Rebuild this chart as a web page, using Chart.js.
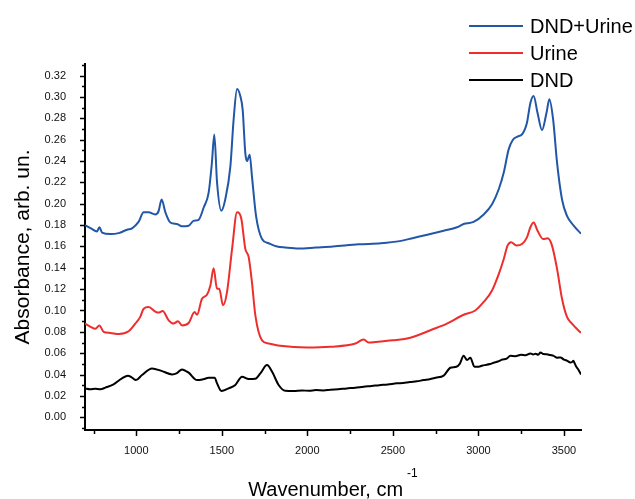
<!DOCTYPE html>
<html>
<head>
<meta charset="utf-8">
<title>FTIR absorbance spectra</title>
<script src="https://cdn.jsdelivr.net/npm/chart.js@4"></script>
<style>
  html, body { margin: 0; padding: 0; background: #fff; }
  #wrap { width: 635px; height: 499px; }
</style>
</head>
<body>
<div id="wrap"><canvas id="c" width="635" height="499"></canvas></div>
<script>
// Spectrum of DND + urine mixture
const mixWavenumber = [700, 735, 770, 784, 800, 848, 897, 946, 975, 1013, 1043, 1072, 1111, 1130, 1148, 1170, 1199, 1238, 1267, 1306, 1335, 1364, 1394, 1423, 1442, 1456, 1472, 1497, 1520, 1550, 1569, 1589, 1608, 1622, 1637, 1647, 1663, 1676, 1700, 1735, 1774, 1823, 1871, 1950, 2050, 2150, 2300, 2430, 2540, 2620, 2719, 2797, 2875, 2906, 2914, 2972, 3031, 3080, 3119, 3148, 3177, 3202, 3229, 3255, 3284, 3304, 3323, 3346, 3372, 3398, 3415, 3437, 3460, 3489, 3518, 3557, 3600];
const mixAbsorbance = [0.180, 0.177, 0.174, 0.178, 0.173, 0.1716, 0.1725, 0.1757, 0.177, 0.183, 0.192, 0.192, 0.190, 0.193, 0.204, 0.192, 0.1825, 0.181, 0.179, 0.1795, 0.184, 0.185, 0.1965, 0.2105, 0.2385, 0.265, 0.220, 0.1935, 0.204, 0.235, 0.279, 0.3075, 0.301, 0.288, 0.248, 0.240, 0.246, 0.226, 0.1887, 0.167, 0.163, 0.160, 0.159, 0.158, 0.159, 0.160, 0.162, 0.163, 0.165, 0.168, 0.1716, 0.1747, 0.178, 0.1805, 0.181, 0.183, 0.190, 0.1996, 0.2136, 0.229, 0.251, 0.260, 0.263, 0.265, 0.276, 0.2945, 0.301, 0.285, 0.269, 0.285, 0.298, 0.279, 0.2385, 0.204, 0.1887, 0.1795, 0.172];

// Spectrum of urine
const urineWavenumber = [700, 760, 784, 809, 848, 897, 955, 994, 1023, 1043, 1072, 1111, 1130, 1154, 1189, 1218, 1244, 1267, 1306, 1341, 1355, 1384, 1413, 1433, 1452, 1472, 1485, 1507, 1530, 1560, 1589, 1614, 1637, 1657, 1676, 1696, 1735, 1774, 1842, 1998, 2135, 2281, 2329, 2358, 2400, 2500, 2583, 2650, 2719, 2816, 2914, 2982, 3031, 3080, 3119, 3148, 3171, 3191, 3222, 3255, 3284, 3304, 3323, 3346, 3378, 3405, 3430, 3460, 3489, 3518, 3547, 3600];
const urineAbsorbance = [0.0877, 0.083, 0.086, 0.080, 0.079, 0.078, 0.0805, 0.0877, 0.094, 0.1017, 0.1032, 0.099, 0.098, 0.0995, 0.0908, 0.0877, 0.090, 0.086, 0.0883, 0.0985, 0.096, 0.111, 0.1147, 0.1234, 0.1396, 0.1203, 0.1203, 0.1048, 0.117, 0.1577, 0.192, 0.186, 0.158, 0.150, 0.1266, 0.0955, 0.072, 0.069, 0.0669, 0.0653, 0.066, 0.069, 0.0728, 0.070, 0.0705, 0.072, 0.0737, 0.077, 0.0815, 0.0877, 0.096, 0.100, 0.108, 0.1188, 0.134, 0.148, 0.161, 0.164, 0.161, 0.1623, 0.1685, 0.178, 0.1825, 0.1747, 0.167, 0.1676, 0.161, 0.139, 0.111, 0.094, 0.0877, 0.079];

// Spectrum of detonation nanodiamonds (noisier trace)
const dndWavenumber = [700, 730, 760, 790, 819, 867, 916, 951, 975, 998, 1033, 1092, 1150, 1209, 1238, 1267, 1306, 1355, 1394, 1423, 1458, 1472, 1497, 1540, 1579, 1618, 1657, 1696, 1725, 1764, 1794, 1832, 1871, 1920, 1969, 2010, 2050, 2095, 2135, 2180, 2230, 2280, 2329, 2375, 2420, 2470, 2524, 2560, 2600, 2640, 2680, 2715, 2750, 2797, 2836, 2871, 2891, 2914, 2934, 2953, 2977, 3002, 3025, 3045, 3068, 3089, 3115, 3140, 3165, 3187, 3215, 3250, 3275, 3304, 3320, 3335, 3350, 3363, 3380, 3400, 3420, 3440, 3460, 3480, 3500, 3520, 3538, 3550, 3555, 3563, 3570, 3585, 3600];
const dndAbsorbance = [0.027, 0.0262, 0.0267, 0.0262, 0.0277, 0.0308, 0.0364, 0.0389, 0.0371, 0.0348, 0.0395, 0.0457, 0.0432, 0.0401, 0.0414, 0.0448, 0.0417, 0.0348, 0.0357, 0.0370, 0.0370, 0.0317, 0.0246, 0.027, 0.0302, 0.038, 0.0357, 0.036, 0.041, 0.0488, 0.0426, 0.0302, 0.0248, 0.0246, 0.0250, 0.0248, 0.0254, 0.0251, 0.0258, 0.0262, 0.027, 0.0276, 0.0286, 0.0292, 0.030, 0.0307, 0.0317, 0.0321, 0.033, 0.0336, 0.0348, 0.0356, 0.037, 0.0389, 0.0463, 0.0473, 0.050, 0.0575, 0.0535, 0.0557, 0.0473, 0.0473, 0.0485, 0.049, 0.0498, 0.051, 0.0522, 0.054, 0.0548, 0.0575, 0.0572, 0.0585, 0.0580, 0.0597, 0.0588, 0.0594, 0.0586, 0.0606, 0.0592, 0.059, 0.0582, 0.0575, 0.0557, 0.0560, 0.054, 0.0528, 0.0513, 0.0520, 0.0530, 0.0505, 0.048, 0.0445, 0.040];

// Axis ticks
const xMajorTicks = [1000, 1500, 2000, 2500, 3000, 3500];
const xMinorTicks = [750, 1250, 1750, 2250, 2750, 3250];
const yMajorTicks = [0.00, 0.02, 0.04, 0.06, 0.08, 0.10, 0.12, 0.14, 0.16, 0.18, 0.20, 0.22, 0.24, 0.26, 0.28, 0.30, 0.32];
const yMinorTicks = [-0.01, 0.01, 0.03, 0.05, 0.07, 0.09, 0.11, 0.13, 0.15, 0.17, 0.19, 0.21, 0.23, 0.25, 0.27, 0.29, 0.31, 0.33];

const seriesLabels = ['DND+Urine', 'Urine', 'DND'];
const seriesColors = ['#2157a6', '#ee2d2d', '#000000'];

const FONT = '"Liberation Sans", Arial, Helvetica, sans-serif';

function pairs(xs, ys) {
  return xs.map((x, i) => ({ x: x, y: ys[i] }));
}

// Ticks, axis titles and legend drawn on top of the plot
const decorations = {
  id: 'decorations',
  afterDraw(chart) {
    const ctx = chart.ctx;
    const xs = chart.scales.x;
    const ys = chart.scales.y;
    const area = chart.chartArea;
    ctx.save();
    ctx.strokeStyle = '#000';
    ctx.lineWidth = 1.5;
    ctx.beginPath();
    xMajorTicks.forEach(v => {
      const p = Math.round(xs.getPixelForValue(v)) + 0.5;
      ctx.moveTo(p, area.bottom); ctx.lineTo(p, area.bottom + 6);
    });
    xMinorTicks.forEach(v => {
      const p = Math.round(xs.getPixelForValue(v)) + 0.5;
      ctx.moveTo(p, area.bottom); ctx.lineTo(p, area.bottom + 4);
    });
    yMajorTicks.forEach(v => {
      const p = Math.round(ys.getPixelForValue(v)) + 0.5;
      ctx.moveTo(area.left, p); ctx.lineTo(area.left - 5, p);
    });
    yMinorTicks.forEach(v => {
      if (v < ys.min || v > ys.max) return;
      const p = Math.round(ys.getPixelForValue(v)) + 0.5;
      ctx.moveTo(area.left, p); ctx.lineTo(area.left - 3, p);
    });
    ctx.stroke();

    // axis titles
    ctx.fillStyle = '#000';
    const main = 'Wavenumber, cm';
    ctx.font = '12px ' + FONT;
    const supW = ctx.measureText('-1').width;
    ctx.font = '20px ' + FONT;
    const mainW = ctx.measureText(main).width;
    const total = mainW + 4 + supW;
    const cx = (area.left + area.right) / 2;
    const startX = cx - total / 2;
    ctx.textAlign = 'left';
    ctx.textBaseline = 'alphabetic';
    ctx.fillText(main, startX, 496);
    ctx.font = '12px ' + FONT;
    ctx.fillText('-1', startX + mainW + 4, 477);

    ctx.save();
    ctx.translate(23, (area.top + area.bottom) / 2);
    ctx.rotate(-Math.PI / 2);
    ctx.font = '21px ' + FONT;
    ctx.textAlign = 'center';
    ctx.textBaseline = 'middle';
    ctx.fillText('Absorbance, arb. un.', 0, 0);
    ctx.restore();

    // legend
    const legendY = [26, 53, 80];
    chart.data.datasets.forEach((ds, i) => {
      const y = legendY[i];
      ctx.strokeStyle = ds.borderColor;
      ctx.lineWidth = 2;
      ctx.beginPath();
      ctx.moveTo(469, y); ctx.lineTo(523, y);
      ctx.stroke();
      ctx.fillStyle = '#000';
      ctx.font = '20px ' + FONT;
      ctx.textAlign = 'left';
      ctx.textBaseline = 'middle';
      ctx.fillText(ds.label, 530, y + 1);
    });
    ctx.restore();
  }
};

new Chart(document.getElementById('c'), {
  type: 'line',
  data: {
    datasets: [
      { label: seriesLabels[0], data: pairs(mixWavenumber, mixAbsorbance), borderColor: seriesColors[0] },
      { label: seriesLabels[1], data: pairs(urineWavenumber, urineAbsorbance), borderColor: seriesColors[1] },
      { label: seriesLabels[2], data: pairs(dndWavenumber, dndAbsorbance), borderColor: seriesColors[2] }
    ]
  },
  options: {
    responsive: false,
    devicePixelRatio: 1,
    animation: false,
    elements: {
      point: { radius: 0, hoverRadius: 0 },
      line: { borderWidth: 2, cubicInterpolationMode: 'monotone', fill: false }
    },
    layout: { padding: { top: 64, right: 54, left: 0, bottom: 0 } },
    plugins: {
      legend: { display: false },
      tooltip: { enabled: false },
      title: { display: false }
    },
    scales: {
      x: {
        type: 'linear',
        min: 700,
        max: 3600,
        afterBuildTicks: s => { s.ticks = xMajorTicks.map(v => ({ value: v })); },
        afterFit: s => { s.height = 69; },
        grid: { display: false },
        border: { display: true, color: '#000', width: 2 },
        ticks: {
          color: '#111',
          font: { family: FONT, size: 11 },
          padding: 6,
          maxRotation: 0,
          autoSkip: false,
          callback: v => String(v)
        }
      },
      y: {
        type: 'linear',
        min: -0.012,
        max: 0.331,
        afterBuildTicks: s => { s.ticks = yMajorTicks.map(v => ({ value: v })); },
        afterFit: s => { s.width = 85; },
        grid: { display: false },
        border: { display: true, color: '#000', width: 2 },
        ticks: {
          color: '#111',
          font: { family: FONT, size: 11 },
          padding: 11,
          autoSkip: false,
          callback: v => Number(v).toFixed(2)
        }
      }
    }
  },
  plugins: [decorations]
});
</script>
</body>
</html>
